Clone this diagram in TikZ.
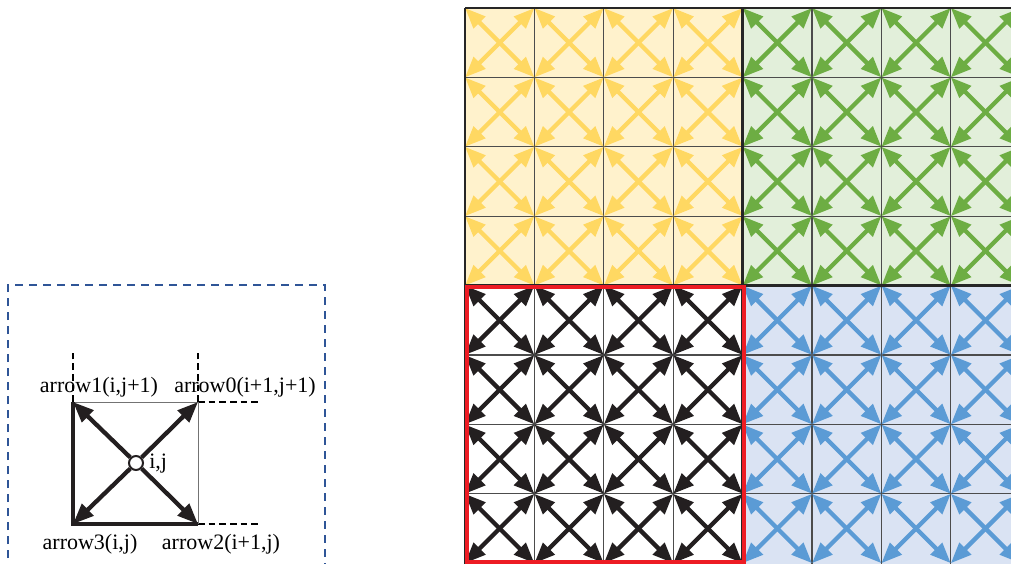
\documentclass[tikz,border=0pt]{standalone}
\usepackage{fontspec}
\setmainfont{Liberation Serif}
\usetikzlibrary{arrows.meta}
\definecolor{yfill}{HTML}{FFF2CC}
\definecolor{yarr}{HTML}{FFD862}
\definecolor{gfill}{HTML}{E2EFDA}
\definecolor{garr}{HTML}{6DAD43}
\definecolor{bfill}{HTML}{DAE3F3}
\definecolor{barr}{HTML}{5B9BD5}
\definecolor{karr}{HTML}{231F20}
\definecolor{redb}{HTML}{ED1C24}
\definecolor{dashblue}{HTML}{2F5597}
\begin{document}
\begin{tikzpicture}[x=0.75pt,y=-0.75pt,
  dbl/.style={line width=3.2pt,{Triangle[length=15.5pt,width=12pt]}-{Triangle[length=15.5pt,width=12pt]}},
  arr/.style={line width=3.2pt,-{Triangle[length=15.5pt,width=12pt]}},
  gridline/.style={line width=0.8pt,black!70},
  blockline/.style={line width=2.2pt,black!85},
  auxdash/.style={line width=1.4pt,dash pattern=on 5pt off 3pt},
  lbl/.style={font=\fontsize{16.5}{18}\selectfont,inner sep=0pt}]
\useasboundingbox (0,0) rectangle (1011,564);
\clip (0,0) rectangle (1011,564);
\def\s{69.4}
% fills
\fill[yfill] (465,8) rectangle (742.6,285.6);
\fill[gfill] (742.6,8) rectangle (1011,285.6);
\fill[bfill] (742.6,285.6) rectangle (1011,564);
\fill[white] (465,285.6) rectangle (742.6,564);
% grid lines
\foreach \k in {1,...,7} {
  \draw[gridline] ({465+\k*\s},8) -- ({465+\k*\s},564);
  \draw[gridline] (465,{8+\k*\s}) -- (1011,{8+\k*\s});
}
% arrows
\newcommand{\cellarrows}[3]{%
  \foreach \i in {0,...,3} {\foreach \j in {0,...,3} {
    \draw[dbl,#1] ({#2+\i*\s},{#3+\j*\s}) -- ++(\s,\s);
    \draw[dbl,#1] ({#2+\i*\s},{#3+(\j+1)*\s}) -- ++(\s,-\s);
  }}}
\cellarrows{yarr}{465}{8}
\cellarrows{garr}{742.6}{8}
\cellarrows{karr}{465}{285.6}
\cellarrows{barr}{742.6}{285.6}
% block borders
\draw[blockline] (465,8) -- (1011,8);
\draw[blockline] (465,8) -- (465,564);
\draw[blockline] (465,285.6) -- (1011,285.6);
\draw[blockline] (742.6,8) -- (742.6,564);
\draw[redb,line width=3pt] (466.5,286.5) rectangle (743.5,562);
% left diagram
\draw[dashblue,line width=1.3pt,dash pattern=on 6pt off 4.5pt] (8,600) -- (8,285) -- (325,285) -- (325,600);
\coordinate (A) at (73,402);
\coordinate (B) at (198,402);
\coordinate (C) at (198,524);
\coordinate (D) at (73,524);
\coordinate (A1) at (73,350);
\coordinate (B1) at (198,350);
\coordinate (B2) at (260,402);
\coordinate (C2) at (260,524);
\draw[auxdash] (A) -- (A1);
\draw[auxdash] (B) -- (B1);
\draw[auxdash] (B) -- (B2);
\draw[auxdash] (C) -- (C2);
\draw[line width=0.7pt,black!55] (A) -- (B) -- (C);
\draw[line width=2.4pt,karr] (A) -- (D) -- (C);
\node[circle,draw=karr,fill=white,line width=1.5pt,minimum size=10.5pt,inner sep=0pt] (ij) at (136,463) {};
\draw[arr,karr] (ij) -- (A);
\draw[arr,karr] (ij) -- (B);
\draw[arr,karr] (ij) -- (C);
\draw[arr,karr] (ij) -- (D);
\node[lbl,anchor=west] (lij) at (149,464) {i,j};
\node[lbl] (l1) at (99,387) {arrow1(i,j+1)};
\node[lbl] (l0) at (245,387) {arrow0(i+1,j+1)};
\node[lbl] (l3) at (90,544) {arrow3(i,j)};
\node[lbl] (l2) at (221,544) {arrow2(i+1,j)};
\end{tikzpicture}
\end{document}
